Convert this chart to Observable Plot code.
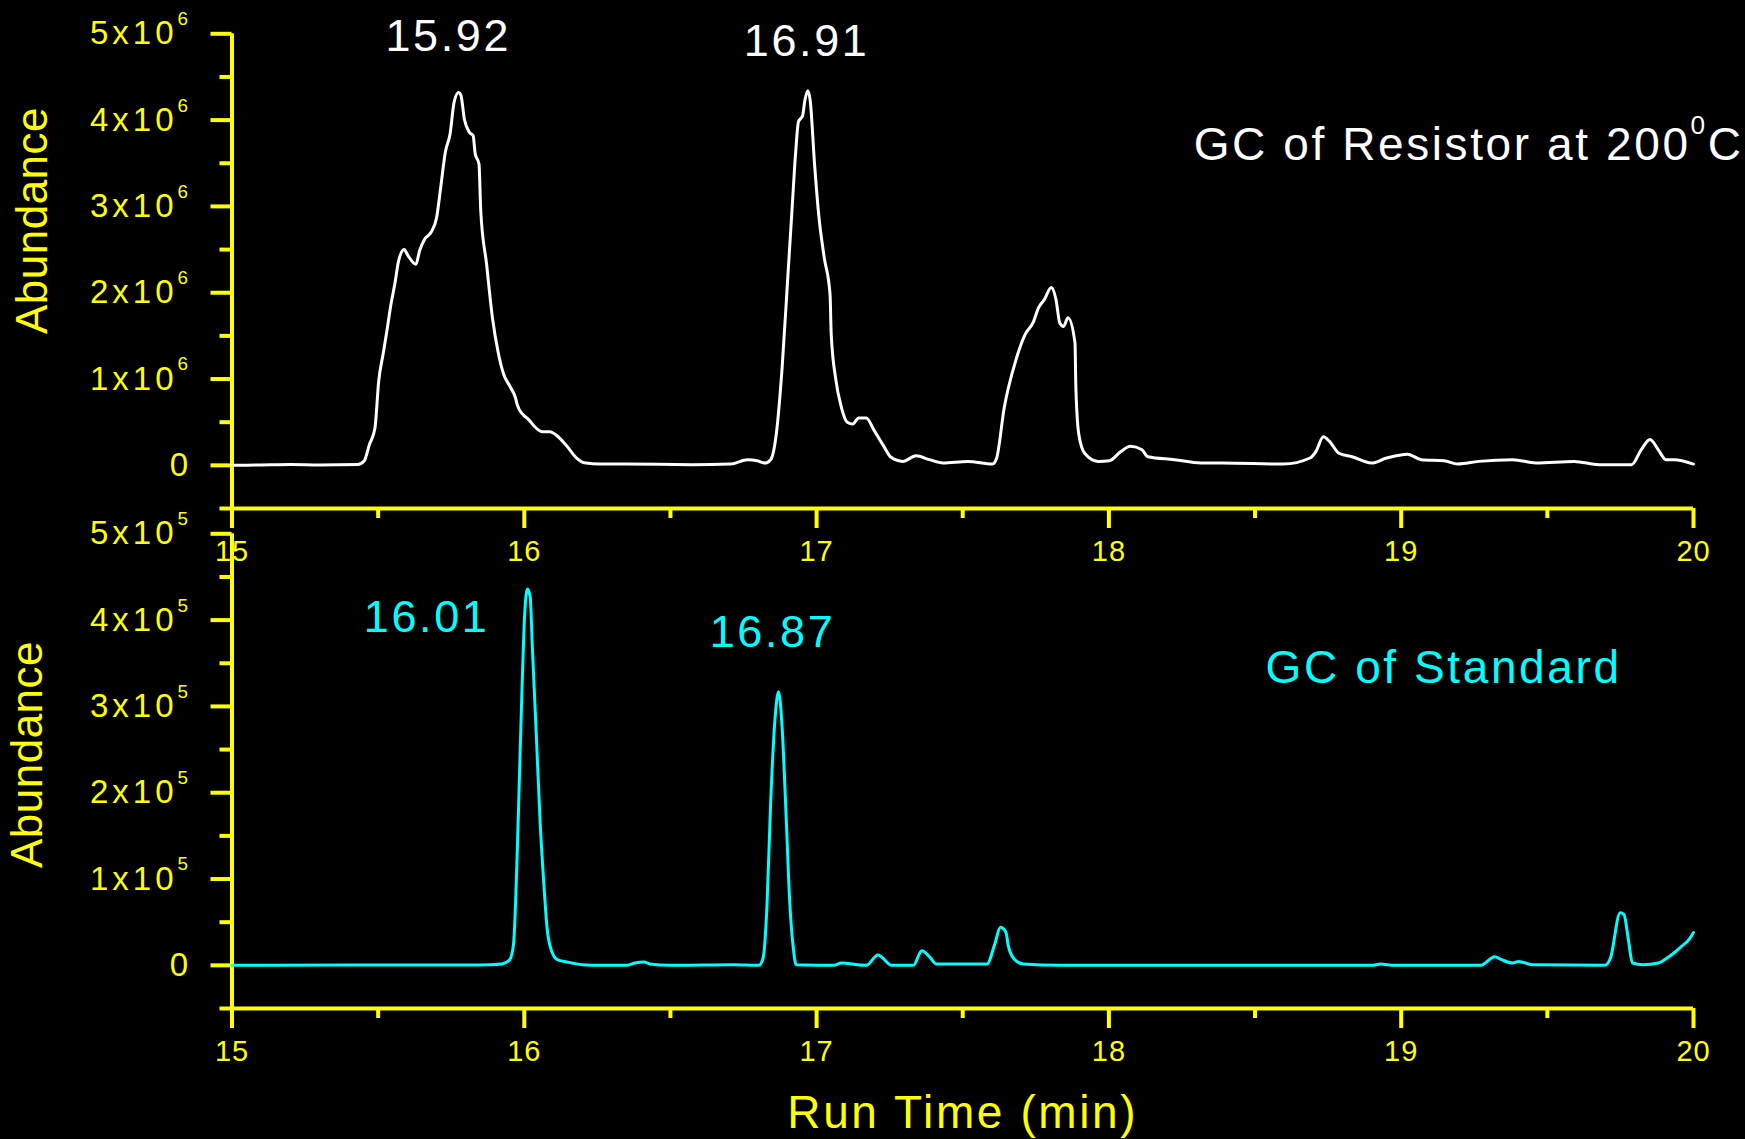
<!DOCTYPE html>
<html><head><meta charset="utf-8">
<script src="https://cdn.jsdelivr.net/npm/d3@7"></script>
<script src="https://cdn.jsdelivr.net/npm/@observablehq/plot@0.6"></script>
<style>
html,body{margin:0;padding:0;background:#000;}
#chart{position:relative;width:1745px;height:1139px;background:#000;overflow:hidden;}
#chart svg{position:absolute;left:0;}
</style></head><body><div id="chart"></div>
<script>
// ---- tick values ----
const timeTicks = [15, 16, 17, 18, 19, 20];
const timeMinorTicks = [15.5, 16.5, 17.5, 18.5, 19.5];
const abundanceTicks = [0, 1, 2, 3, 4, 5];
const abundanceMinorTicks = [-0.5, 0.5, 1.5, 2.5, 3.5, 4.5];

// ---- GC of Resistor at 200 C (abundance in units of 10^6) ----
const resistorTime = [15.00,15.10,15.20,15.30,15.43,15.452,15.47,15.489,15.502,15.517,15.53,15.544,15.557,15.57,15.589,15.602,15.629,15.642,15.659,15.681,15.70,15.714,15.73,15.746,15.76,15.775,15.783,15.795,15.812,15.825,15.832,15.845,15.851,15.871,15.891,15.91,15.93,15.95,15.97,15.976,15.995,16.015,16.035,16.061,16.087,16.113,16.146,16.179,16.205,16.26,16.34,16.574,16.705,16.764,16.797,16.823,16.843,16.862,16.882,16.902,16.915,16.928,16.938,16.952,16.96,16.97,16.978,16.993,17.007,17.026,17.046,17.05,17.065,17.085,17.105,17.124,17.144,17.17,17.196,17.23,17.255,17.295,17.34,17.386,17.432,17.517,17.602,17.616,17.642,17.681,17.714,17.74,17.76,17.779,17.803,17.819,17.832,17.845,17.86,17.884,17.887,17.897,17.917,17.963,18.002,18.041,18.074,18.113,18.133,18.225,18.314,18.387,18.597,18.688,18.708,18.734,18.754,18.787,18.832,18.898,18.95,19.022,19.068,19.147,19.193,19.265,19.382,19.461,19.592,19.677,19.788,19.821,19.851,19.88,19.906,19.933,20.0];
const resistorAbundance = [0,0.005,0.01,0.005,0.01,0.05,0.24,0.43,0.98,1.29,1.56,1.87,2.10,2.37,2.50,2.43,2.33,2.49,2.62,2.70,2.87,3.22,3.63,3.84,4.21,4.32,4.29,4.01,3.86,3.82,3.61,3.49,2.95,2.33,1.71,1.32,1.05,0.92,0.78,0.70,0.59,0.53,0.45,0.39,0.39,0.34,0.22,0.085,0.03,0.015,0.015,0.008,0.015,0.066,0.054,0.027,0.066,0.36,1.13,2.21,2.91,3.61,3.98,4.05,4.23,4.34,4.23,3.49,2.91,2.41,1.98,1.52,1.01,0.67,0.50,0.48,0.55,0.55,0.41,0.22,0.093,0.046,0.11,0.066,0.027,0.046,0.015,0.085,0.67,1.21,1.52,1.65,1.83,1.92,2.06,1.92,1.65,1.61,1.71,1.42,0.90,0.36,0.14,0.046,0.054,0.16,0.22,0.18,0.10,0.066,0.027,0.027,0.015,0.085,0.16,0.33,0.28,0.14,0.10,0.027,0.085,0.13,0.066,0.054,0.015,0.046,0.066,0.027,0.046,0.008,0.008,0.18,0.30,0.18,0.066,0.066,0.015];

// ---- GC of Standard (abundance in units of 10^5) ----
const standardTime = [15.00,15.40,15.80,15.884,15.923,15.95,15.963,15.976,15.982,15.991,16.002,16.011,16.02,16.028,16.041,16.054,16.067,16.078,16.094,16.113,16.146,16.198,16.26,16.35,16.378,16.41,16.43,16.496,16.718,16.803,16.817,16.83,16.843,16.859,16.87,16.882,16.895,16.908,16.921,16.93,17.059,17.085,17.17,17.21,17.258,17.331,17.36,17.386,17.41,17.583,17.609,17.629,17.648,17.655,17.675,17.707,17.83,18.898,18.93,18.976,19.271,19.32,19.343,19.382,19.402,19.448,19.697,19.716,19.749,19.762,19.778,19.791,19.828,19.88,19.906,19.932,19.959,19.985,20.0];
const standardAbundance = [0,0.005,0.005,0.008,0.015,0.066,0.24,1.32,2.02,3.07,4.11,4.36,4.27,3.65,2.68,1.67,0.94,0.43,0.16,0.066,0.039,0.008,0,0,0.027,0.039,0.015,0,0.008,0,0.085,0.67,1.90,2.91,3.17,2.76,1.79,0.74,0.18,0.008,0,0.027,0,0.12,0,0,0.17,0.10,0.015,0.015,0.24,0.44,0.38,0.24,0.077,0.015,0,0,0.015,0,0,0.10,0.066,0.027,0.046,0.008,0,0.085,0.61,0.59,0.28,0.027,0.008,0.027,0.077,0.14,0.22,0.30,0.38];

// ---- annotations (data coordinates) ----
const resistorPeakLabels = ["15.92", "16.91"];
const resistorPeakTimes = [15.74, 16.966];
const resistorPeakLevels = [4.97, 4.905];
const standardPeakLabels = ["16.01", "16.87"];
const standardPeakTimes = [15.666, 16.849];
const standardPeakLevels = [4.03, 3.856];
const resistorTitle = {label: "GC of Resistor at 200^{0}C", time: 18.29, level: 3.706};
const standardTitle = {label: "GC of Standard", time: 19.145, level: 3.439};

const YELLOW = "#ffff00", WHITE = "#ffffff", CYAN = "#00ffff";
const FONT = "'Liberation Sans', Arial, Helvetica, sans-serif";

const zip = (t, a) => t.map((x, i) => ({time: x, abundance: a[i]}));
const zipLabels = (l, t, a) => l.map((s, i) => ({label: s, time: t[i], level: a[i]}));

function panel({series, exponent, color, peaks, title, titleAnchor, height, marginBottom, ylabDx, ylabDy, xTitle}) {
  const marks = [
    Plot.ruleX([15], {y1: -0.5, y2: 5, stroke: YELLOW, strokeWidth: 4}),
    Plot.ruleY([-0.5], {x1: 15, x2: 20, stroke: YELLOW, strokeWidth: 4}),
    Plot.axisY({ticks: abundanceMinorTicks, tickSize: 12, tickFormat: () => "", color: YELLOW, strokeWidth: 4, label: null}),
    Plot.axisY({ticks: abundanceTicks, tickSize: 21, tickPadding: 19, color: YELLOW, strokeWidth: 4, fontSize: 33,
      tickFormat: d => d === 0 ? "0" : `${d}x10^{${exponent}}`, label: null}),
    Plot.axisX({ticks: timeMinorTicks, tickSize: 10, tickFormat: () => "", color: YELLOW, strokeWidth: 4, label: null}),
    Plot.axisX({ticks: timeTicks, tickSize: 20, tickPadding: 12, color: YELLOW, strokeWidth: 4, fontSize: 29,
      tickFormat: d => String(d), label: null}),
    Plot.line(series, {x: "time", y: "abundance", stroke: color, strokeWidth: 3, curve: "monotone-x"}),
    Plot.text(peaks, {x: "time", y: "level", text: "label", fill: color, fontSize: 45, lineAnchor: "middle"}),
    Plot.text([title], {x: "time", y: "level", text: "label", fill: color, fontSize: 46, textAnchor: titleAnchor, lineAnchor: "middle"}),
    Plot.text(["Abundance"], {text: d => d, frameAnchor: "left", textAnchor: "middle", lineAnchor: "middle", rotate: -90, dx: ylabDx, dy: ylabDy, fill: YELLOW, fontSize: 44})
  ];
  if (xTitle) marks.push(Plot.text([xTitle], {text: d => d, frameAnchor: "bottom", textAnchor: "middle", lineAnchor: "middle", dy: 105, fill: YELLOW, fontSize: 46}));
  return Plot.plot({
    width: 1745, height,
    marginLeft: 231.5, marginRight: 52, marginTop: 33.3, marginBottom,
    x: {domain: [15, 20]},
    y: {domain: [-0.5, 5]},
    style: {background: "transparent", color: YELLOW, fontFamily: FONT, overflow: "visible"},
    marks
  });
}

function finish(svg) {
  const sel = d3.select(svg);
  sel.selectAll('g[aria-label="y-axis tick label"] text').style("letter-spacing", "4px");
  sel.selectAll('g[aria-label="x-axis tick label"] text').style("letter-spacing", "1px");
  sel.selectAll('g[aria-label="text"]').each(function() {
    const fs = +this.getAttribute("font-size");
    d3.select(this).selectAll("text").style("letter-spacing", fs === 44 ? "0.5px" : "2.6px");
  });
  const ns = "http://www.w3.org/2000/svg";
  svg.querySelectorAll("text").forEach(t => {
    const m = t.textContent.match(/^(.*)\^\{(.*?)\}(.*)$/);
    if (!m) return;
    const fs = parseFloat(getComputedStyle(t).fontSize);
    const sup = fs * 0.57, raise = fs * 0.58;
    t.textContent = "";
    const a = document.createElementNS(ns, "tspan"); a.textContent = m[1]; t.appendChild(a);
    const b = document.createElementNS(ns, "tspan"); b.textContent = m[2];
    b.setAttribute("font-size", sup); b.setAttribute("dy", -raise); t.appendChild(b);
    if (m[3]) {
      const c = document.createElementNS(ns, "tspan"); c.textContent = m[3];
      c.setAttribute("font-size", fs); c.setAttribute("dy", raise); t.appendChild(c);
    }
  });
}

const chart = document.getElementById("chart");
const top1 = panel({
  series: zip(resistorTime, resistorAbundance), exponent: 6, color: WHITE,
  peaks: zipLabels(resistorPeakLabels, resistorPeakTimes, resistorPeakLevels),
  title: resistorTitle, titleAnchor: "start",
  height: 600, marginBottom: 92, ylabDx: -199.5, ylabDy: -50.65
});
top1.style.top = "0px";
const bot = panel({
  series: zip(standardTime, standardAbundance), exponent: 5, color: CYAN,
  peaks: zipLabels(standardPeakLabels, standardPeakTimes, standardPeakLevels),
  title: standardTitle, titleAnchor: "middle",
  height: 639, marginBottom: 131, ylabDx: -204.5, ylabDy: -16.65, xTitle: "Run Time (min)"
});
bot.style.top = "500px";
chart.appendChild(top1);
chart.appendChild(bot);
finish(top1);
finish(bot);
</script></body></html>
